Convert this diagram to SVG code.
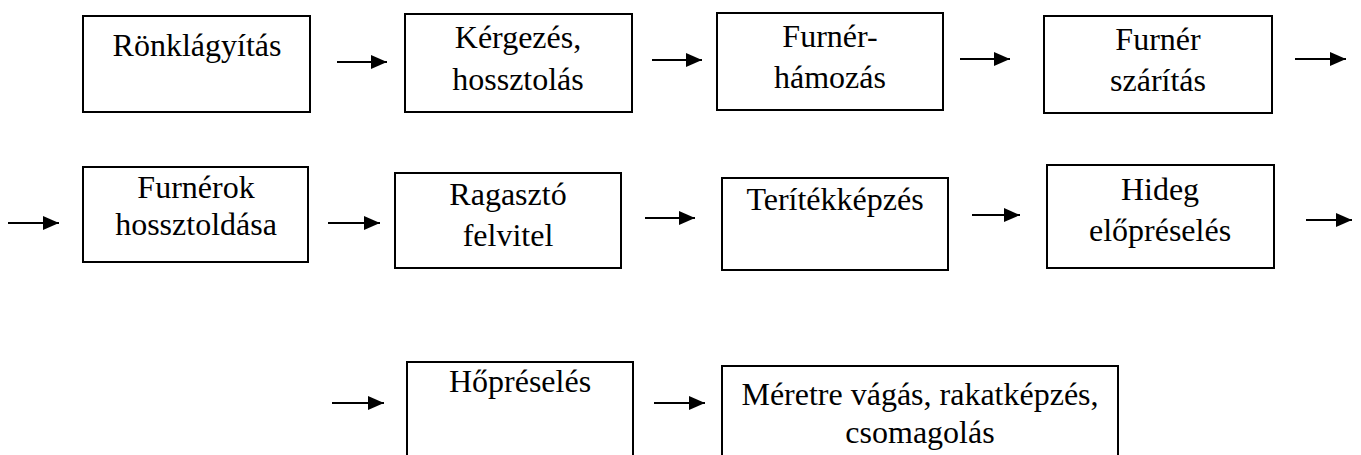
<svg xmlns="http://www.w3.org/2000/svg" width="1361" height="455" viewBox="0 0 1361 455">
<style>
.box{fill:#fff;stroke:#000;stroke-width:2}
.t{font-family:'Liberation Serif',Tinos,'Times New Roman','DejaVu Serif',serif;font-size:32px;fill:#000;text-anchor:middle}
.c{stroke:#000;stroke-width:2.2;fill:none}
</style>
<defs>
<marker id="ah" markerUnits="userSpaceOnUse" markerWidth="16" markerHeight="14" refX="16" refY="7" orient="auto">
<path d="M0,0 L16,7 L0,14 z" fill="#000"/>
</marker>
</defs>
<rect width="1361" height="455" fill="#fff"/>
<g id="n1"><rect class="box" x="83" y="16" width="227" height="96"/><text class="t" x="197" y="56" font-family="Liberation Serif, serif">Rönklágyítás</text></g>
<g id="n2"><rect class="box" x="405" y="14" width="227" height="98"/><text class="t" x="518" y="48">Kérgezés,</text><text class="t" x="518" y="90">hossztolás</text></g>
<g id="n3"><rect class="box" x="717" y="13" width="226" height="97"/><text class="t" x="830" y="47">Furnér-</text><text class="t" x="830" y="88">hámozás</text></g>
<g id="n4"><rect class="box" x="1044" y="16" width="228" height="97"/><text class="t" x="1158" y="50">Furnér</text><text class="t" x="1158" y="91">szárítás</text></g>
<g id="n5"><rect class="box" x="83" y="167" width="225" height="95"/><text class="t" x="196" y="198">Furnérok</text><text class="t" x="196" y="235">hossztoldása</text></g>
<g id="n6"><rect class="box" x="395" y="173" width="226" height="95"/><text class="t" x="508" y="205">Ragasztó</text><text class="t" x="508" y="246">felvitel</text></g>
<g id="n7"><rect class="box" x="722" y="178" width="226" height="92"/><text class="t" x="835" y="210">Terítékképzés</text></g>
<g id="n8"><rect class="box" x="1047" y="165" width="227" height="103"/><text class="t" x="1160" y="200">Hideg</text><text class="t" x="1160" y="241">előpréselés</text></g>
<g id="n9"><rect class="box" x="407" y="362" width="226" height="100"/><text class="t" x="520" y="392">Hőpréselés</text></g>
<g id="n10"><rect class="box" x="722" y="366" width="396" height="96"/><text class="t" x="920" y="405">Méretre vágás, rakatképzés,</text><text class="t" x="920" y="443">csomagolás</text></g>
<g id="connectors">
<line class="c" x1="337" y1="62" x2="387" y2="62" marker-end="url(#ah)"/>
<line class="c" x1="652" y1="60" x2="702" y2="60" marker-end="url(#ah)"/>
<line class="c" x1="960" y1="59" x2="1010" y2="59" marker-end="url(#ah)"/>
<line class="c" x1="1295" y1="59" x2="1346" y2="59" marker-end="url(#ah)"/>
<line class="c" x1="8" y1="223" x2="59" y2="223" marker-end="url(#ah)"/>
<line class="c" x1="328" y1="223" x2="380" y2="223" marker-end="url(#ah)"/>
<line class="c" x1="645" y1="218" x2="695" y2="218" marker-end="url(#ah)"/>
<line class="c" x1="972" y1="215" x2="1020" y2="215" marker-end="url(#ah)"/>
<line class="c" x1="1306" y1="220" x2="1352" y2="220" marker-end="url(#ah)"/>
<line class="c" x1="332" y1="403" x2="384" y2="403" marker-end="url(#ah)"/>
<line class="c" x1="654" y1="403" x2="705" y2="403" marker-end="url(#ah)"/>
</g>
</svg>
